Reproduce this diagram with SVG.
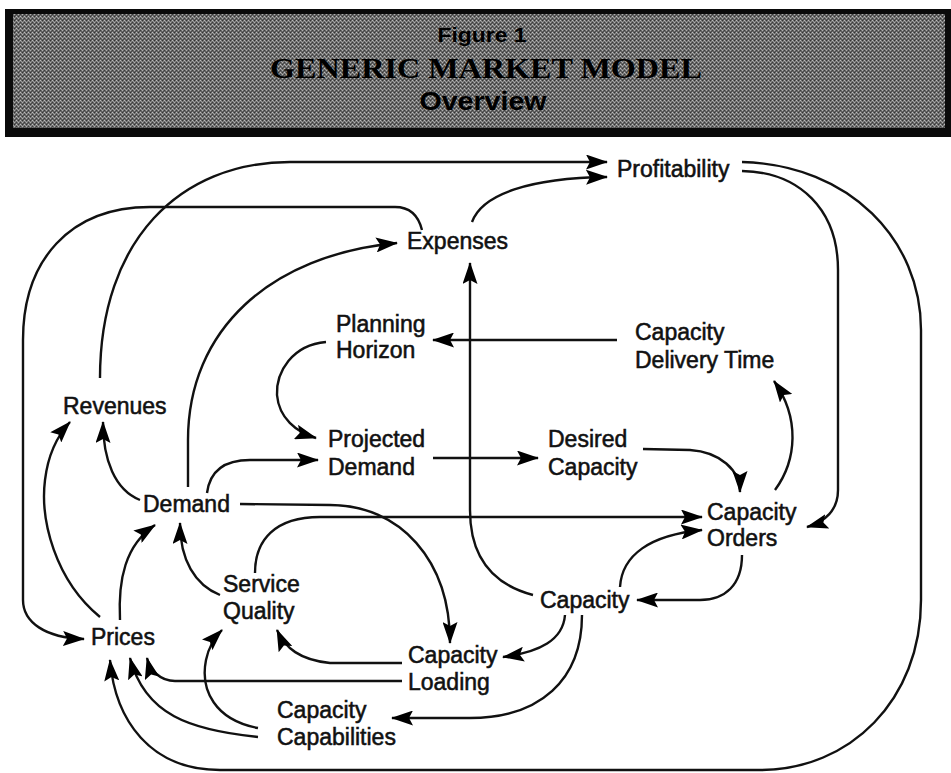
<svg xmlns="http://www.w3.org/2000/svg" width="951" height="773" viewBox="0 0 951 773">
<defs>
<pattern id="tex" width="4" height="4" patternUnits="userSpaceOnUse">
<rect width="4" height="4" fill="#6c6c6c"/>
<rect x="0" y="0" width="1" height="1" fill="#bdbdbd"/>
<rect x="2" y="2" width="1" height="1" fill="#b0b0b0"/>
<rect x="2" y="0" width="1" height="1" fill="#333"/>
<rect x="0" y="2" width="1" height="1" fill="#3c3c3c"/>
<rect x="1" y="1" width="1" height="1" fill="#989898"/>
<rect x="3" y="3" width="1" height="1" fill="#4c4c4c"/>
<rect x="3" y="1" width="1" height="1" fill="#858585"/>
<rect x="1" y="3" width="1" height="1" fill="#5c5c5c"/>
</pattern>
<marker id="ah" viewBox="0 0 22 15" refX="21" refY="7.5" markerWidth="22" markerHeight="15" markerUnits="userSpaceOnUse" orient="auto">
<path d="M0,0 L22,7.5 L0,15 L4,7.5 z" fill="#000"/>
</marker>
<style>
.lbl{font-family:"Liberation Sans",Arial,sans-serif;font-size:23px;fill:#111;stroke:#111;stroke-width:0.55}
.c{fill:none;stroke:#111;stroke-width:2.4;marker-end:url(#ah)}
.h1{font-family:"Liberation Sans",Arial,sans-serif;font-weight:bold;fill:#000;text-anchor:middle}
.h2{font-family:"Liberation Serif","Times New Roman",serif;font-weight:bold;fill:#000;text-anchor:middle}
</style>
</defs>
<rect width="951" height="773" fill="#fff"/>
<g id="header">
<rect x="5" y="9" width="946" height="128" fill="#0a0a0a"/>
<rect x="13" y="14" width="932" height="114" fill="url(#tex)"/>
<text class="h1" x="482" y="42" font-size="20" textLength="89" lengthAdjust="spacingAndGlyphs">Figure 1</text>
<text class="h2" x="486" y="78" font-size="30" textLength="432" lengthAdjust="spacingAndGlyphs">GENERIC MARKET MODEL</text>
<text class="h1" x="483" y="110" font-size="25" textLength="127" lengthAdjust="spacingAndGlyphs">Overview</text>
</g>
<g id="connectors">
<path class="c" d="M100,378 C100,240 180,162 290,162 L607,162"/>
<path class="c" d="M472,222 C482,194 530,178 607,177"/>
<path class="c" d="M422,230 C418,214 408,207 395,207 L150,207 C70,207 23,260 23,340 L23,600 C23,622 45,638 84,639"/>
<path class="c" d="M188,487 L188,440 C188,330 270,255 397,243"/>
<path class="c" d="M326,342 C292,345 276,372 277,395 C279,418 296,432 316,438"/>
<path class="c" d="M617,340 L433,340"/>
<path class="c" d="M533,595 C495,585 470,560 470,510 L470,263"/>
<path class="c" d="M140,500 C115,490 103,460 103,422"/>
<path class="c" d="M100,617 C55,580 40,520 45,480 C48,455 58,435 70,422"/>
<path class="c" d="M120,620 C118,580 125,545 155,525"/>
<path class="c" d="M220,595 C195,585 180,560 180,523"/>
<path class="c" d="M207,493 C210,470 225,460 250,460 L318,460"/>
<path class="c" d="M240,504 L330,505 C400,505 450,560 450,643"/>
<path class="c" d="M255,573 C255,540 275,517 320,517 L702,517"/>
<path class="c" d="M433,458 L538,458"/>
<path class="c" d="M643,449 L690,450 C720,452 740,470 740,492"/>
<path class="c" d="M775,490 C797,460 800,418 774,381"/>
<path class="c" d="M742,171 C800,172 838,210 838,270 L838,490 C838,510 825,522 807,527"/>
<path class="c" d="M742,162 C850,165 921,240 921,330 L921,600 C921,700 850,770 760,770 L220,770 C150,770 115,720 110,660"/>
<path class="c" d="M620,587 C622,555 650,535 702,530"/>
<path class="c" d="M742,555 C742,585 725,600 700,600 L637,600"/>
<path class="c" d="M565,615 C563,640 540,652 503,657"/>
<path class="c" d="M582,615 C582,680 540,718 470,718 L392,718"/>
<path class="c" d="M402,663 L330,663 C300,660 285,648 277,630"/>
<path class="c" d="M402,681 L175,681 C160,681 150,670 147,658"/>
<path class="c" d="M258,728 C215,720 200,690 206,660 C209,645 215,637 222,630"/>
<path class="c" d="M258,737 C190,730 145,715 130,658"/>
</g>
<g id="profitability"><text class="lbl" x="617" y="177">Profitability</text></g>
<g id="expenses"><text class="lbl" x="407" y="249">Expenses</text></g>
<g id="planning-horizon"><text class="lbl" x="336" y="332">Planning</text><text class="lbl" x="336" y="358">Horizon</text></g>
<g id="capacity-delivery-time"><text class="lbl" x="635" y="340">Capacity</text><text class="lbl" x="635" y="368">Delivery Time</text></g>
<g id="revenues"><text class="lbl" x="63" y="414">Revenues</text></g>
<g id="projected-demand"><text class="lbl" x="328" y="447">Projected</text><text class="lbl" x="328" y="475">Demand</text></g>
<g id="desired-capacity"><text class="lbl" x="548" y="447">Desired</text><text class="lbl" x="548" y="475">Capacity</text></g>
<g id="demand"><text class="lbl" x="143" y="512">Demand</text></g>
<g id="capacity-orders"><text class="lbl" x="707" y="520">Capacity</text><text class="lbl" x="707" y="546">Orders</text></g>
<g id="service-quality"><text class="lbl" x="223" y="592">Service</text><text class="lbl" x="223" y="619">Quality</text></g>
<g id="prices"><text class="lbl" x="91" y="645">Prices</text></g>
<g id="capacity"><text class="lbl" x="540" y="608">Capacity</text></g>
<g id="capacity-loading"><text class="lbl" x="408" y="663">Capacity</text><text class="lbl" x="408" y="690">Loading</text></g>
<g id="capacity-capabilities"><text class="lbl" x="277" y="718">Capacity</text><text class="lbl" x="277" y="745">Capabilities</text></g>
</svg>
